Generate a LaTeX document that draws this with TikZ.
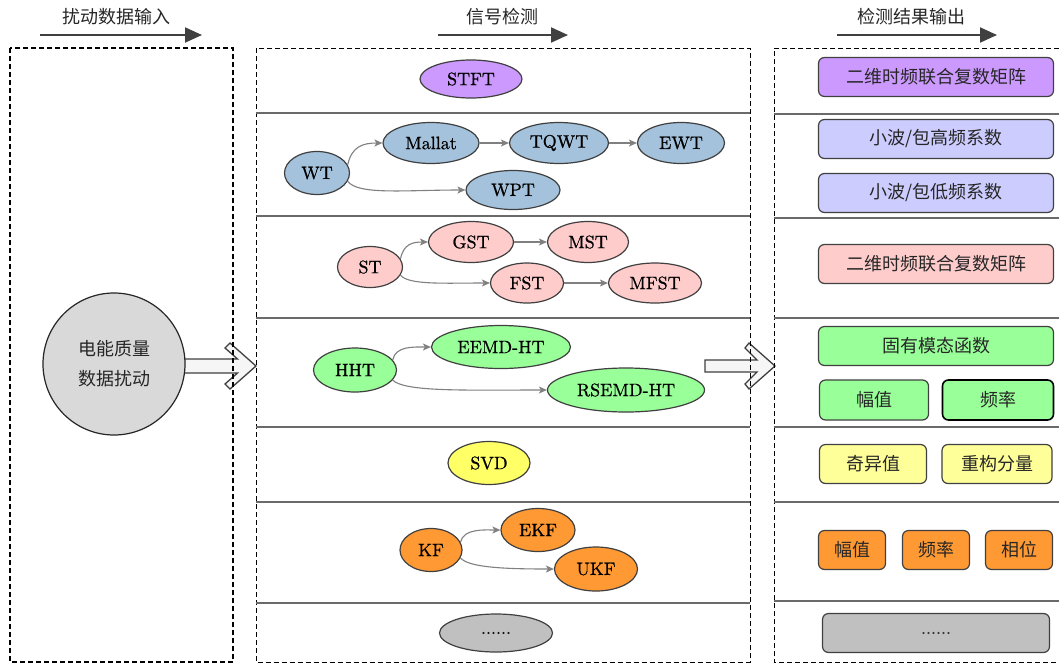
\documentclass[tikz,border=0pt]{standalone}
\usepackage{fontspec}
\newfontfamily\cjk{Noto Sans CJK SC}
\newfontfamily\latf[FakeBold=0.7]{lmroman10-regular.otf}
\usetikzlibrary{arrows.meta,shapes.geometric}
\definecolor{edgegray}{HTML}{404040}
\definecolor{sepgray}{HTML}{6A6A6A}
\definecolor{linkgray}{HTML}{808080}
\definecolor{stftc}{HTML}{CC99FF}
\definecolor{wtc}{HTML}{A4C2DC}
\definecolor{stc}{HTML}{FFCCCC}
\definecolor{hhtc}{HTML}{99FF99}
\definecolor{svdc}{HTML}{FFFF66}
\definecolor{svdbox}{HTML}{FFFF99}
\definecolor{kfc}{HTML}{FF9933}
\definecolor{dotc}{HTML}{C0C0C0}
\definecolor{lavc}{HTML}{CCCCFF}
\definecolor{pqc}{HTML}{D9D9D9}
\definecolor{blockc}{HTML}{F6F6F6}
\begin{document}
\begin{tikzpicture}[x=1pt,y=-1pt,
  ell/.style={ellipse,draw=edgegray,line width=1.2pt,inner sep=0pt,
    font=\latf\fontsize{18}{20}\selectfont,text=black},
  rbox/.style={rectangle,rounded corners=6pt,draw=edgegray,line width=1.2pt,
    inner sep=0pt,minimum height=39pt,font=\cjk\fontsize{18}{22}\selectfont,text=black!85},
  link/.style={draw=linkgray,line width=1.1pt,-{Stealth[length=8pt,width=7pt,inset=2pt]}},
  frame/.style={draw=black,line width=1pt,dash pattern=on 5pt off 3pt},
  sepline/.style={draw=sepgray,line width=1.2pt},
  headarrow/.style={draw=edgegray,line width=2pt,-{Triangle[length=17pt,width=15pt]}},
  headtext/.style={font=\cjk\fontsize{18}{22}\selectfont,text=black!85,inner sep=0pt},
  blockarrow/.style={fill=blockc,draw=edgegray,line width=1.3pt,line join=miter}]
\useasboundingbox (0,0) rectangle (1059,664);
\fill[white] (0,0) rectangle (1059,664);

% column headers
\node[headtext] (h1) at (116,17) {扰动数据输入};
\coordinate (h1a) at (40,35);  \coordinate (h1b) at (202,35);
\draw[headarrow] (h1a) -- (h1b);
\node[headtext] (h2) at (502,17) {信号检测};
\coordinate (h2a) at (438,35); \coordinate (h2b) at (568,35);
\draw[headarrow] (h2a) -- (h2b);
\node[headtext] (h3) at (911,17) {检测结果输出};
\coordinate (h3a) at (837,35); \coordinate (h3b) at (997,35);
\draw[headarrow] (h3a) -- (h3b);

% block arrows between the columns
\coordinate (intip) at (256,366);
\coordinate (outtip) at (775,366);
\draw[blockarrow,shift={(intip)}] (0,0) -- (-26,-23) -- (-31,-18) -- (-18.5,-7) -- (-74,-7)
  -- (-74,7) -- (-18.5,7) -- (-31,18) -- (-26,23) -- cycle;
\draw[blockarrow,shift={(outtip)}] (0,0) -- (-26,-23) -- (-30,-18) -- (-18,-6) -- (-70,-6)
  -- (-70,6) -- (-18,6) -- (-30,18) -- (-26,23) -- cycle;

% dashed frames
\draw[frame,line width=1.3pt] (10,48) rectangle (233,662);
\draw[frame] (256,48) rectangle (750,662);
\draw[frame] (1059,48) -- (774,48) -- (774,662) -- (1059,662);

% separators in the middle column
\foreach \yy in {113,216,318,427,502,603}
  \draw[sepline] (256,\yy) -- (750,\yy);
% separators in the right column
\foreach \yy in {114,218,318,427,502,601}
  \draw[sepline] (774,\yy) -- (1059,\yy);

% input disturbance
\node[circle,draw=black!85,line width=1.2pt,fill=pqc,minimum size=142pt,inner sep=0pt,
  align=center,font=\cjk\fontsize{18}{30}\selectfont,text=black!85] (pq) at (114,364)
  {电能质量\\数据扰动};

% detection methods
\node[ell,fill=stftc,minimum width=102pt,minimum height=38pt] (stft) at (471,79) {STFT};

\node[ell,fill=wtc,minimum width=65pt,minimum height=43pt] (wt) at (317,173) {WT};
\node[ell,fill=wtc,minimum width=96pt,minimum height=41pt] (mallat) at (431,143) {Mallat};
\node[ell,fill=wtc,minimum width=99pt,minimum height=41pt] (tqwt) at (559,143) {TQWT};
\node[ell,fill=wtc,minimum width=87pt,minimum height=41pt] (ewt) at (681,143) {EWT};
\node[ell,fill=wtc,minimum width=94pt,minimum height=39pt] (wpt) at (513,190) {WPT};

\node[ell,fill=stc,minimum width=65pt,minimum height=41pt] (st) at (370,267) {ST};
\node[ell,fill=stc,minimum width=85pt,minimum height=41pt] (gst) at (471,242) {GST};
\node[ell,fill=stc,minimum width=81pt,minimum height=41pt] (mst) at (588,242) {MST};
\node[ell,fill=stc,minimum width=73pt,minimum height=40pt] (fst) at (527,283) {FST};
\node[ell,fill=stc,minimum width=93pt,minimum height=40pt] (mfst) at (655,283) {MFST};

\node[ell,fill=hhtc,minimum width=83pt,minimum height=44pt] (hht) at (355,370) {HHT};
\node[ell,fill=hhtc,minimum width=139pt,minimum height=43pt] (eemd) at (501,347) {EEMD-HT};
\node[ell,fill=hhtc,minimum width=157pt,minimum height=44pt] (rsemd) at (626,390) {RSEMD-HT};

\node[ell,fill=svdc,minimum width=82pt,minimum height=43pt] (svd) at (489,463) {SVD};

\node[ell,fill=kfc,minimum width=62pt,minimum height=43pt] (kf) at (431,550) {KF};
\node[ell,fill=kfc,minimum width=74pt,minimum height=43pt] (ekf) at (538,530) {EKF};
\node[ell,fill=kfc,minimum width=83pt,minimum height=44pt] (ukf) at (596,569) {UKF};

\node[ell,fill=dotc,minimum width=113pt,minimum height=38pt] (more) at (496,633) {......};

% method links
\draw[link] (wt.15) .. controls +(4,-18) and +(-20,0) .. (mallat.west);
\draw[link] (wt.-15) .. controls +(10,14) and +(-60,0) .. (wpt.west);
\draw[link] (mallat) -- (tqwt);
\draw[link] (tqwt) -- (ewt);
\draw[link] (st.15) .. controls +(3,-15) and +(-15,0) .. (gst.west);
\draw[link] (st.-15) .. controls +(8,10) and +(-45,0) .. (fst.west);
\draw[link] (gst) -- (mst);
\draw[link] (fst) -- (mfst);
\draw[link] (hht.15) .. controls +(3,-14) and +(-18,0) .. (eemd.west);
\draw[link] (hht.-15) .. controls +(12,12) and +(-80,0) .. (rsemd.west);
\draw[link] (kf.15) .. controls +(3,-14) and +(-15,0) .. (ekf.west);
\draw[link] (kf.-15) .. controls +(8,10) and +(-45,0) .. (ukf.west);

% detection results
\node[rbox,fill=stftc,minimum width=235pt] (r1) at (936,77) {二维时频联合复数矩阵};
\node[rbox,fill=lavc,minimum width=235pt] (r2) at (936,139) {小波/包高频系数};
\node[rbox,fill=lavc,minimum width=235pt] (r3) at (936,193) {小波/包低频系数};
\node[rbox,fill=stc,minimum width=235pt] (r4) at (936,264) {二维时频联合复数矩阵};
\node[rbox,fill=hhtc,minimum width=235pt] (r5) at (936,346) {固有模态函数};
\node[rbox,fill=hhtc,minimum width=109pt,minimum height=40pt] (r6) at (874,400) {幅值};
\node[rbox,fill=hhtc,minimum width=111pt,minimum height=40pt,draw=black,line width=1.6pt] (r7) at (998,400) {频率};
\node[rbox,fill=svdbox,minimum width=107pt] (r8) at (873,464) {奇异值};
\node[rbox,fill=svdbox,minimum width=110pt] (r9) at (997,464) {重构分量};
\node[rbox,fill=kfc,minimum width=67pt] (r10) at (852,550) {幅值};
\node[rbox,fill=kfc,minimum width=67pt] (r11) at (936,550) {频率};
\node[rbox,fill=kfc,minimum width=67pt] (r12) at (1019,550) {相位};
\node[rbox,fill=dotc,minimum width=227pt,font=\latf\fontsize{18}{20}\selectfont] (r13) at (936,633) {......};
\end{tikzpicture}
\end{document}
